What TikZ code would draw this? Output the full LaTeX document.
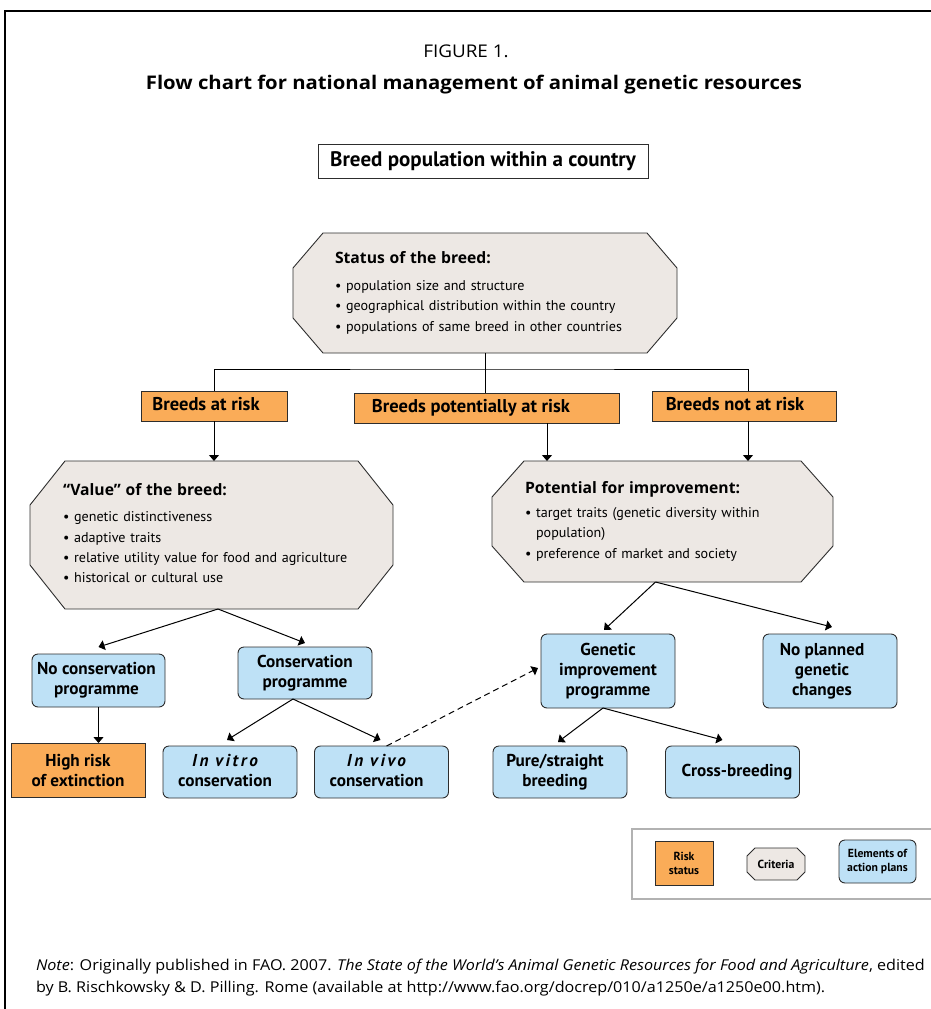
\documentclass[tikz,border=0pt]{standalone}
\usepackage{fontspec}
\setmainfont{PT Sans}
\newfontfamily\widefont{Open Sans}
\newfontfamily\stretchfont[FakeStretch=1.08]{Open Sans}
\usetikzlibrary{arrows.meta,backgrounds,calc}
\definecolor{orng}{RGB}{250,172,88}
\definecolor{lblue}{RGB}{190,225,246}
\definecolor{crit}{RGB}{237,232,228}
\definecolor{bord}{RGB}{45,45,45}
\newcommand{\octdraw}[3]{%
  \begin{pgfonlayer}{background}
  \path[octshape] ([xshift=#2]#1.north west) -- ([xshift=-#2]#1.north east)
    -- ([yshift=-#3]#1.north east) -- ([yshift=#3]#1.south east)
    -- ([xshift=-#2]#1.south east) -- ([xshift=#2]#1.south west)
    -- ([yshift=#3]#1.south west) -- ([yshift=-#3]#1.north west) -- cycle;
  \end{pgfonlayer}}
% shift a centred text block left (\shl) or right (\shr) by half the padding
\newcommand{\shl}[2]{\begin{tabular}{@{}c@{\hspace{#1}}}#2\end{tabular}}
\newcommand{\shr}[2]{\begin{tabular}{@{\hspace{#1}}c@{}}#2\end{tabular}}
\tikzset{
  every node/.style={outer sep=0pt, inner sep=0pt},
  topbox/.style={draw=bord, fill=white, line width=0.9pt,
    font=\bfseries\fontsize{21}{24}\selectfont},
  riskbox/.style={draw=bord, fill=orng, line width=0.9pt, align=center,
    font=\bfseries\fontsize{18.5}{20}\selectfont},
  actbox/.style={draw=bord, fill=lblue, line width=0.9pt, rounded corners=6pt,
    align=center, font=\bfseries\fontsize{17.2}{20}\selectfont},
  critnode/.style={align=left, font=\fontsize{14.1}{20.3}\selectfont},
  octshape/.style={draw=bord, fill=crit, line width=0.9pt},
  arr/.style={-{Triangle[width=10pt,length=6pt]}, line width=1pt, draw=black},
  conn/.style={line width=1pt, draw=black},
  legbox/.style={draw=bord, line width=0.9pt, align=center,
    font=\bfseries\fontsize{11.7}{14}\selectfont},
}
\newcommand{\octtitle}[1]{{\widefont\bfseries\fontsize{15.7}{20}\selectfont #1}}
\begin{document}
\begin{tikzpicture}[x=1pt,y=-1pt]
\useasboundingbox (0,0) rectangle (931,1009);
\draw[line width=1.4pt] (931,11) -- (5,11) -- (5,1009);

% titles
\node[anchor=base, font=\stretchfont\fontsize{17.5}{20}\selectfont] (fig) at (466,57) {FIGURE 1.};
\node[anchor=base, font=\stretchfont\bfseries\fontsize{18.8}{22}\selectfont] (title) at (474,89)
  {Flow chart for national management of animal genetic resources};

% top box
\node[topbox, minimum width=330pt, minimum height=34pt] (pop) at (483,161)
  {Breed population within a country};

% status octagon
\node[critnode, minimum width=384pt, minimum height=120pt, text width=300pt] (status) at (485,293)
  {\begin{tabular}{@{}l@{}}
   \octtitle{Status of the breed:}\\[7pt]
   \textbullet\ population size and structure\\
   \textbullet\ geographical distribution within the country\\
   \textbullet\ populations of same breed in other countries
   \end{tabular}};
\octdraw{status}{30pt}{35pt}

% risk status boxes
\node[riskbox, minimum width=146pt, minimum height=30pt] (risk) at (214,406) {\shl{16pt}{Breeds at risk}};
\node[riskbox, minimum width=265pt, minimum height=30pt] (pot) at (486.5,408) {\shl{31pt}{Breeds potentially at risk}};
\node[riskbox, minimum width=184pt, minimum height=30pt] (notrisk) at (744,406) {\shl{18pt}{Breeds not at risk}};

\coordinate (junc) at (483,369);
\draw[conn] (status.south) -- (status.south |- pot.north);
\draw[conn] (risk.north) |- (junc) -| ([xshift=4pt]notrisk.north);

% value octagon
\node[critnode, minimum width=363pt, minimum height=148pt, text width=297pt] (value) at (211.5,535)
  {\begin{tabular}{@{}l@{}}
   \octtitle{“Value” of the breed:}\\[6pt]
   \textbullet\ genetic distinctiveness\\
   \textbullet\ adaptive traits\\
   \textbullet\ relative utility value for food and agriculture\\
   \textbullet\ historical or cultural use
   \end{tabular}};
\octdraw{value}{35pt}{44pt}

% improvement octagon
\node[critnode, minimum width=341pt, minimum height=121pt, text width=275pt] (improve) at (662.5,521.5)
  {\begin{tabular}{@{}l@{}}
   \octtitle{Potential for improvement:}\\[4pt]
   \textbullet\ target traits (genetic diversity within\\
   \hphantom{\textbullet\ }population)\\
   \textbullet\ preference of market and society
   \end{tabular}};
\octdraw{improve}{32pt}{36pt}

\draw[arr] (risk.south) -- (risk.south |- value.north);
\draw[arr] ([xshift=60.5pt]pot.south) -- ([xshift=60.5pt]pot.south |- improve.north);
\draw[arr] ([xshift=4pt]notrisk.south) -- ([xshift=4pt]notrisk.south |- improve.north);

% action boxes
\node[actbox, minimum width=133pt, minimum height=53pt] (nocons) at (98.5,680.5) {\shl{4pt}{No conservation\\programme}};
\node[actbox, minimum width=134pt, minimum height=52pt] (cons) at (305,673) {Conservation\\programme};
\node[riskbox, minimum width=134pt, minimum height=54pt, font=\bfseries\fontsize{17.2}{20}\selectfont] (high) at (78,770) {High risk\\of extinction};
\node[actbox, minimum width=134pt, minimum height=52pt] (vitro) at (230,772)
  {\shl{10pt}{{\itshape\addfontfeature{LetterSpace=15}In vitro}\\conservation}};
\node[actbox, minimum width=134pt, minimum height=52pt] (vivo) at (381.5,772)
  {\shl{10pt}{{\itshape\addfontfeature{LetterSpace=15}In vivo}\\conservation}};
\node[actbox, minimum width=134pt, minimum height=74pt] (genetic) at (608,671) {Genetic\\improvement\\programme};
\node[actbox, minimum width=134pt, minimum height=74pt] (noplan) at (830,671) {\shl{16pt}{No planned\\genetic\\changes}};
\node[actbox, minimum width=134pt, minimum height=52pt] (pure) at (560,772) {\shl{10pt}{Pure/straight\\breeding}};
\node[actbox, minimum width=134pt, minimum height=52pt] (cross) at (732.5,772) {\shr{9pt}{Cross-breeding}};

\draw[arr] ([xshift=6.5pt]value.south) -- ([yshift=7pt]nocons.north);
\draw[arr] ([xshift=6.5pt]value.south) -- ([yshift=4pt]cons.north);
\draw[arr] (nocons.south) -- (nocons.south |- high.north);
\draw[arr] ([xshift=-12pt]cons.south) -- ([shift={(-3pt,6pt)}]vitro.north);
\draw[arr] ([xshift=-12pt]cons.south) -- ([shift={(-1pt,6pt)}]vivo.north);
\draw[arr, dash pattern=on 6pt off 4pt] ([xshift=5pt]vivo.north) -- ([shift={(-3pt,3pt)}]genetic.west);
\draw[arr] ([xshift=-7pt]improve.south) -- ([shift={(-4pt,4pt)}]genetic.north);
\draw[arr] ([xshift=-7pt]improve.south) -- ([shift={(2pt,7pt)}]noplan.north);
\draw[arr] ([xshift=-5pt]genetic.south) -- ([shift={(-2pt,4pt)}]pure.north);
\draw[arr] ([xshift=-5pt]genetic.south) -- ([shift={(-10pt,6pt)}]cross.north);

% legend
\draw[draw=black!30, line width=1.2pt] (931,829) -- (632,829) -- (632,899) -- (931,899);
\node[legbox, fill=orng, minimum width=58pt, minimum height=44pt] (legrisk) at (684,863) {Risk\\status};
\node[align=center, font=\bfseries\fontsize{11.7}{14}\selectfont, minimum width=58pt, minimum height=32pt] (legcrit) at (776,864) {Criteria};
\octdraw{legcrit}{8pt}{8pt}
\node[legbox, fill=lblue, rounded corners=6pt, minimum width=77pt, minimum height=43pt] (legact) at (877.5,861.5) {Elements of\\action plans};

% note
\node[anchor=base west, align=left, font=\stretchfont\fontsize{14.95}{22}\selectfont] (note) at (36,992)
  {\textit{Note}: Originally published in FAO. 2007. \textit{The State of the World’s Animal Genetic Resources for Food and Agriculture}, edited\\
   by B. Rischkowsky \& D. Pilling. Rome (available at http://www.fao.org/docrep/010/a1250e/a1250e00.htm).};
\end{tikzpicture}
\end{document}
